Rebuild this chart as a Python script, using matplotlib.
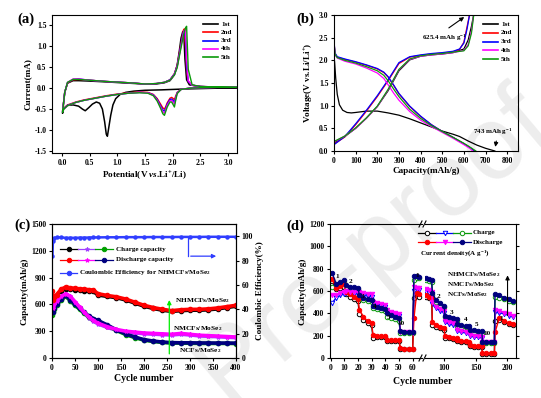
"""
Figura com quatro painéis: CV, curvas de carga/descarga, ciclagem e desempenho em taxa.
"""

import matplotlib
matplotlib.use('Agg')
import matplotlib.pyplot as plt
from matplotlib.lines import Line2D

# ================================
# CONFIGURAÇÃO GERAL
# ================================
LARGURA_PX, ALTURA_PX = 541, 398
DPI = 100

plt.rcParams['font.family'] = ['Liberation Serif', 'DejaVu Serif']
plt.rcParams['font.weight'] = 'bold'
plt.rcParams['axes.labelweight'] = 'bold'
plt.rcParams['mathtext.fontset'] = 'custom'
plt.rcParams['mathtext.rm'] = 'Liberation Serif:bold'
plt.rcParams['mathtext.it'] = 'Liberation Serif:italic:bold'
plt.rcParams['mathtext.bf'] = 'Liberation Serif:bold'
plt.rcParams['axes.linewidth'] = 0.8

TAM_TICK = 5.5
TAM_EIXO = 6.6
TAM_LEG = 5.1

PRETO = 'black'
VERMELHO = '#ff0000'
AZUL = '#0000ff'
MAGENTA = '#ff00ff'
VERDE = '#0a9a0a'
ROXO = '#a040ff'
MARINHO = '#00007f'
VERDE_C = '#00a000'
AZUL_CE = '#2f3dff'

ROTULOS_CICLO = ['1st', '2nd', '3rd', '4th', '5th']
CORES_CICLO = [PRETO, VERMELHO, AZUL, MAGENTA, VERDE]

# ================================
# DADOS (a) - VOLTAMETRIA CÍCLICA
# ================================
V_CICLO1_CAT = [3.15, 2.8, 2.5, 2.2, 2.0, 1.8, 1.5, 1.3, 1.15, 1.05, 0.97, 0.92, 0.88, 0.85, 0.82,
                0.80, 0.77, 0.73, 0.68, 0.62, 0.55, 0.48, 0.42, 0.37, 0.30, 0.20, 0.10, 0.03, 0.01]
I_CICLO1_CAT = [0.01, 0.0, -0.01, -0.02, -0.03, -0.04, -0.05, -0.07, -0.10, -0.15, -0.25, -0.40, -0.65, -0.90, -1.15,
                -1.10, -0.80, -0.50, -0.36, -0.33, -0.38, -0.47, -0.54, -0.50, -0.43, -0.40, -0.41, -0.50, -0.60]
V_CICLO1_AN = [0.01, 0.05, 0.10, 0.20, 0.30, 0.50, 0.80, 1.20, 1.50, 1.70, 1.85, 1.95, 2.03, 2.08, 2.12,
               2.15, 2.18, 2.20, 2.22, 2.25, 2.30, 2.50, 2.80, 3.15]
I_CICLO1_AN = [-0.60, -0.10, 0.12, 0.18, 0.18, 0.17, 0.15, 0.12, 0.10, 0.10, 0.13, 0.18, 0.32, 0.55, 0.90,
               1.20, 1.35, 1.30, 0.70, 0.20, 0.08, 0.04, 0.02, 0.01]

# ciclos 2 a 5 compartilham a mesma grade de potencial
V_CAT = [3.15, 2.8, 2.5, 2.3, 2.15, 2.08, 2.05, 2.03, 2.01, 1.98, 1.95, 1.90, 1.87, 1.85, 1.82,
         1.78, 1.72, 1.65, 1.55, 1.40, 1.20, 1.00, 0.80, 0.60, 0.40, 0.25, 0.10, 0.03, 0.01]
V_AN = [0.01, 0.05, 0.10, 0.20, 0.30, 0.50, 0.80, 1.20, 1.50, 1.70, 1.85, 1.95, 2.03, 2.08, 2.12,
        2.16, 2.19, 2.21, 2.23, 2.25, 2.28, 2.35, 2.50, 2.80, 3.15]

I_CAT_2 = [0.02, 0.02, 0.01, 0.0, -0.03, -0.10, -0.20, -0.28, -0.25, -0.22, -0.24, -0.35, -0.45, -0.50, -0.47,
           -0.38, -0.25, -0.15, -0.10, -0.09, -0.11, -0.14, -0.18, -0.23, -0.28, -0.33, -0.40, -0.48, -0.55]
I_CAT_3 = [0.02, 0.02, 0.01, 0.0, -0.03, -0.11, -0.24, -0.33, -0.30, -0.26, -0.27, -0.38, -0.49, -0.55, -0.52,
           -0.42, -0.27, -0.16, -0.11, -0.10, -0.12, -0.15, -0.19, -0.24, -0.29, -0.34, -0.41, -0.49, -0.56]
I_CAT_4 = [0.02, 0.02, 0.01, 0.0, -0.03, -0.12, -0.27, -0.38, -0.34, -0.29, -0.30, -0.41, -0.53, -0.60, -0.56,
           -0.45, -0.29, -0.17, -0.11, -0.10, -0.12, -0.15, -0.19, -0.24, -0.29, -0.34, -0.42, -0.50, -0.57]
I_CAT_5 = [0.02, 0.02, 0.01, 0.0, -0.03, -0.13, -0.31, -0.45, -0.40, -0.33, -0.33, -0.45, -0.57, -0.65, -0.61,
           -0.48, -0.31, -0.18, -0.12, -0.11, -0.12, -0.15, -0.19, -0.24, -0.29, -0.34, -0.42, -0.50, -0.58]

I_AN_2 = [-0.55, -0.10, 0.12, 0.20, 0.21, 0.19, 0.16, 0.13, 0.10, 0.11, 0.14, 0.20, 0.35, 0.55, 0.85,
          1.15, 1.38, 1.42, 1.00, 0.40, 0.15, 0.07, 0.04, 0.03, 0.02]
I_AN_3 = [-0.56, -0.10, 0.13, 0.21, 0.22, 0.19, 0.16, 0.13, 0.10, 0.11, 0.14, 0.20, 0.34, 0.53, 0.82,
          1.12, 1.33, 1.38, 1.20, 0.50, 0.16, 0.07, 0.04, 0.03, 0.02]
I_AN_4 = [-0.57, -0.10, 0.14, 0.22, 0.22, 0.19, 0.16, 0.13, 0.10, 0.11, 0.14, 0.19, 0.33, 0.51, 0.80,
          1.08, 1.30, 1.38, 1.40, 0.70, 0.18, 0.07, 0.04, 0.03, 0.02]
I_AN_5 = [-0.58, -0.10, 0.14, 0.21, 0.21, 0.19, 0.16, 0.13, 0.10, 0.11, 0.14, 0.19, 0.32, 0.49, 0.77,
          1.04, 1.25, 1.35, 1.44, 1.48, 0.45, 0.08, 0.04, 0.03, 0.02]

# ================================
# DADOS (b) - CARGA / DESCARGA
# ================================
CAP_DESC_1 = [0, 3, 8, 15, 25, 40, 60, 80, 100, 150, 200, 250, 300, 350, 400, 450, 500, 550, 580, 620, 660, 700, 743]
V_DESC_1 = [2.10, 1.95, 1.60, 1.25, 1.02, 0.90, 0.85, 0.84, 0.85, 0.88, 0.88, 0.84, 0.79, 0.71, 0.62,
            0.53, 0.44, 0.37, 0.32, 0.22, 0.13, 0.06, 0.0]

CAP_DESC = [0, 5, 15, 50, 100, 150, 200, 230, 250, 275, 300, 350, 400, 450, 500, 550, 600, 630]
V_DESC_2 = [2.40, 2.15, 2.07, 2.02, 1.96, 1.89, 1.81, 1.73, 1.63, 1.45, 1.26, 0.98, 0.76, 0.58, 0.43, 0.30, 0.16, 0.07]
V_DESC_3 = [2.42, 2.16, 2.08, 2.03, 1.97, 1.90, 1.82, 1.74, 1.64, 1.46, 1.27, 0.99, 0.77, 0.58, 0.43, 0.30, 0.16, 0.07]
V_DESC_4 = [2.35, 2.12, 2.05, 1.98, 1.92, 1.83, 1.72, 1.60, 1.46, 1.28, 1.12, 0.87, 0.68, 0.54, 0.41, 0.28, 0.14, 0.05]
V_DESC_5 = [2.38, 2.13, 2.06, 2.00, 1.94, 1.86, 1.77, 1.67, 1.55, 1.37, 1.20, 0.92, 0.72, 0.56, 0.43, 0.30, 0.17, 0.08]
CAP_FIM_DESC = [None, 650, 650, 640, 655]

CAP_CARGA_A = [0, 50, 100, 150, 200, 250, 300, 350, 400, 450, 500, 550, 580, 600, 615, 626]
V_CARGA_2 = [0.15, 0.31, 0.58, 0.88, 1.20, 1.55, 1.93, 2.07, 2.11, 2.14, 2.16, 2.19, 2.24, 2.40, 2.75, 3.0]
V_CARGA_3 = [0.14, 0.32, 0.60, 0.90, 1.22, 1.57, 1.95, 2.08, 2.12, 2.15, 2.17, 2.20, 2.25, 2.38, 2.70, 3.0]
CAP_CARGA_B = [0, 50, 100, 150, 200, 250, 300, 350, 400, 450, 500, 550, 600, 620, 635, 645]
V_CARGA_1 = [0.18, 0.32, 0.50, 0.73, 0.98, 1.33, 1.77, 2.01, 2.09, 2.12, 2.14, 2.17, 2.25, 2.45, 2.75, 3.0]
V_CARGA_4 = [0.20, 0.33, 0.50, 0.72, 0.98, 1.35, 1.79, 2.02, 2.09, 2.12, 2.14, 2.17, 2.22, 2.35, 2.65, 3.0]
V_CARGA_5 = [0.21, 0.33, 0.51, 0.73, 0.99, 1.36, 1.80, 2.03, 2.10, 2.13, 2.15, 2.18, 2.21, 2.32, 2.60, 2.98]

# ================================
# DADOS (c) - CICLAGEM LONGA
# ================================
CICLOS_C = [1, 2, 5, 10, 20, 30, 40, 50, 60, 70, 80, 90, 100, 120, 140, 160, 180, 200,
            220, 240, 260, 280, 300, 320, 340, 360, 380, 400]
NHMCF_DESC = [750, 650, 680, 710, 770, 795, 785, 780, 775, 770, 765, 760, 720, 700, 685, 660, 625, 590,
              565, 545, 530, 540, 545, 545, 550, 560, 575, 590]
NHMCF_CARGA = [640, 640, 665, 695, 755, 775, 770, 765, 760, 755, 750, 745, 705, 690, 675, 650, 615, 580,
               555, 535, 522, 530, 535, 535, 540, 550, 565, 580]
NMCF_DESC = [590, 560, 600, 640, 690, 720, 690, 630, 570, 510, 460, 420, 390, 350, 320, 300, 290, 280,
             275, 270, 265, 275, 265, 255, 250, 245, 240, 235]
NMCF_CARGA = [570, 550, 590, 630, 680, 710, 680, 620, 560, 500, 450, 412, 382, 342, 312, 292, 282, 272,
              267, 262, 258, 266, 258, 248, 243, 238, 233, 228]
NCF_DESC = [540, 520, 560, 600, 660, 700, 650, 600, 555, 510, 470, 440, 420, 370, 315, 270, 235, 205,
            190, 178, 172, 170, 170, 168, 168, 167, 167, 166]
NCF_CARGA = [480, 510, 550, 590, 650, 690, 640, 590, 545, 500, 462, 432, 410, 362, 308, 263, 228, 200,
             185, 174, 168, 166, 165, 164, 163, 163, 163, 162]
EFICIENCIA = [84, 96, 98.5, 99, 99, 98.6, 98.7, 98.6, 98.8, 98.8, 98.9, 99.0, 99.0, 99.1, 99.1, 99.2, 99.2, 99.2,
              99.3, 99.3, 99.3, 99.4, 99.4, 99.4, 99.5, 99.5, 99.5, 99.5]

# ================================
# DADOS (d) - DESEMPENHO EM TAXA
# ================================
CICLOS_D_ESQ = [1, 4, 7, 10, 11, 14, 17, 20, 21, 24, 27, 30, 31, 34, 37, 40,
                41, 44, 47, 50, 51, 54, 57, 60, 61, 63, 65]
CICLOS_D_DIR = [71, 75, 80, 81, 87, 94, 100, 101, 107, 114, 120, 121, 127, 134, 140,
                141, 147, 154, 160, 161, 167, 174, 180, 181, 188, 196, 203, 210]

NHMCF_D_DESC_ESQ = [764, 665, 680, 695, 650, 640, 635, 630, 560, 540, 530, 520, 470, 460, 450, 440,
                    400, 385, 370, 355, 240, 235, 235, 230, 735, 730, 725]
NHMCF_D_DESC_DIR = [715, 705, 695, 580, 520, 490, 470, 380, 370, 360, 350, 305, 295, 290, 285,
                    255, 250, 245, 240, 145, 140, 140, 140, 575, 560, 540, 525, 510]
NHMCF_D_CARGA_ESQ = [640, 650, 665, 680, 635, 625, 620, 615, 530, 520, 510, 500, 445, 440, 430, 420,
                     370, 360, 350, 335, 220, 225, 225, 225, 700, 715, 712]
NHMCF_D_CARGA_DIR = [700, 690, 680, 560, 505, 475, 455, 365, 355, 345, 335, 290, 280, 275, 270,
                     240, 235, 230, 228, 135, 135, 135, 135, 550, 540, 525, 510, 500]

NMCF_D_DESC_ESQ = [560, 565, 580, 595, 600, 595, 590, 590, 590, 580, 575, 570, 505, 495, 485, 475,
                   430, 415, 400, 390, 235, 230, 230, 228, 640, 630, 625]
NMCF_D_DESC_DIR = [615, 605, 595, 500, 460, 440, 420, 335, 320, 310, 300, 250, 240, 235, 230,
                   205, 200, 195, 190, 140, 140, 140, 140, 430, 420, 405, 390, 375]
NMCF_D_CARGA_ESQ = [490, 540, 560, 575, 580, 580, 575, 575, 570, 560, 555, 550, 490, 480, 470, 460,
                    410, 400, 390, 375, 225, 225, 225, 225, 600, 615, 610]
NMCF_D_CARGA_DIR = [595, 585, 575, 480, 445, 425, 405, 320, 305, 295, 290, 240, 230, 225, 220,
                    195, 190, 185, 180, 135, 135, 135, 135, 410, 405, 395, 380, 365]

NCF_D_DESC_ESQ = [705, 630, 645, 660, 590, 570, 550, 530, 430, 370, 330, 310, 205, 200, 195, 195,
                  165, 160, 160, 160, 90, 85, 85, 80, 360, 585, 570]
NCF_D_DESC_DIR = [560, 550, 540, 320, 295, 280, 265, 195, 185, 180, 175, 160, 155, 150, 145,
                  115, 110, 108, 105, 45, 42, 42, 42, 230, 360, 330, 315, 305]
NCF_D_CARGA_ESQ = [690, 620, 630, 640, 570, 550, 530, 510, 390, 340, 310, 295, 180, 185, 185, 185,
                   150, 150, 150, 150, 85, 80, 80, 80, 540, 555, 550]
NCF_D_CARGA_DIR = [545, 535, 525, 300, 280, 265, 255, 180, 175, 170, 165, 150, 145, 140, 135,
                   105, 100, 100, 100, 40, 40, 40, 40, 330, 340, 320, 305, 295]

# rótulos de densidade de corrente (A/g): (ciclo, capacidade, texto)
TAXAS_ESQ = [(5, 726, '1'), (14.5, 687, '2'), (23.5, 548, '3'), (32.5, 465, '4'), (42, 364, '5'),
             (51.5, 311, '10'), (63.5, 741, '1')]
TAXAS_DIR = [(91, 548, '2'), (111.5, 409, '3'), (134, 341, '4'), (151.5, 296, '5'),
             (168, 222, '10'), (191, 356, '1')]


# ================================
# FUNÇÕES AUXILIARES
# ================================
def caixa(esq, topo, dir, base):
    """Converte limites em pixels para [x, y, largura, altura] em fração da figura."""
    return [esq / LARGURA_PX, 1 - base / ALTURA_PX, (dir - esq) / LARGURA_PX, (base - topo) / ALTURA_PX]


def px_fig(x, y):
    return x / LARGURA_PX, 1 - y / ALTURA_PX


def estilizar(ax, tam=TAM_TICK):
    ax.set_facecolor('none')
    ax.tick_params(direction='out', length=2.5, width=0.8, labelsize=tam, pad=1.5)
    for rotulo in ax.get_xticklabels() + ax.get_yticklabels():
        rotulo.set_fontweight('bold')


def entrada_legenda(fig, x0, x1, y, estilos, rotulo, x_texto, tam=TAM_LEG, ms=3.2, lw=0.9):
    """Desenha uma linha de legenda manual com um ou mais segmentos."""
    n = len(estilos)
    passo = (x1 - x0) / n
    for i, (cor, marcador, cheio) in enumerate(estilos):
        xa, ya = px_fig(x0 + i * passo, y)
        xb, _ = px_fig(x0 + (i + 1) * passo, y)
        fig.add_artist(Line2D([xa, xb], [ya, ya], color=cor, lw=lw, transform=fig.transFigure))
        if marcador:
            xm, _ = px_fig(x0 + (i + 0.5) * passo, y)
            fig.add_artist(Line2D([xm], [ya], marker=marcador, ms=ms, lw=0, color=cor,
                                  mfc=cor if cheio else 'white', mec=cor, mew=0.7,
                                  transform=fig.transFigure))
    xt, yt = px_fig(x_texto, y)
    fig.text(xt, yt, rotulo, fontsize=tam, va='center', ha='left', fontweight='bold')


def rotulo_painel(fig, x, y, texto):
    xf, yf = px_fig(x, y)
    fig.text(xf, yf, texto, fontsize=10.5, fontweight='bold', ha='left', va='top')


# ================================
# PAINEL (a)
# ================================
def painel_a(fig):
    ax = fig.add_axes(caixa(52, 15, 237, 153))
    ax.plot(V_CICLO1_CAT + V_CICLO1_AN, I_CICLO1_CAT + I_CICLO1_AN, color=PRETO, lw=1.1)
    correntes = [(I_CAT_2, I_AN_2), (I_CAT_3, I_AN_3), (I_CAT_4, I_AN_4), (I_CAT_5, I_AN_5)]
    for (cat, an), cor in zip(correntes, CORES_CICLO[1:]):
        ax.plot(V_CAT + V_AN, cat + an, color=cor, lw=1.0)
    ax.set_xlim(-0.18, 3.16)
    ax.set_ylim(-1.55, 1.75)
    ax.set_xticks([0.0, 0.5, 1.0, 1.5, 2.0, 2.5, 3.0])
    ax.set_yticks([-1.5, -1.0, -0.5, 0.0, 0.5, 1.0, 1.5])
    ax.xaxis.set_major_formatter(plt.FormatStrFormatter('%.1f'))
    ax.yaxis.set_major_formatter(plt.FormatStrFormatter('%.1f'))
    ax.set_xlabel(r'Potential(V $\mathit{vs}$.Li$^{+}$/Li)', fontsize=TAM_EIXO, labelpad=2)
    ax.set_ylabel('Current(mA)', fontsize=TAM_EIXO, labelpad=2)
    estilizar(ax)
    for i, (rot, cor) in enumerate(zip(ROTULOS_CICLO, CORES_CICLO)):
        entrada_legenda(fig, 203, 218, 24 + i * 8.3, [(cor, None, True)], rot, 221, lw=1.2)
    rotulo_painel(fig, 17, 13, '(a)')


# ================================
# PAINEL (b)
# ================================
def painel_b(fig):
    ax = fig.add_axes(caixa(334, 15, 518, 151))
    ax.plot(CAP_DESC_1, V_DESC_1, color=PRETO, lw=0.9)
    ax.plot(CAP_CARGA_B, V_CARGA_1, color=PRETO, lw=0.9)
    descargas = [V_DESC_2, V_DESC_3, V_DESC_4, V_DESC_5]
    cargas = [(CAP_CARGA_A, V_CARGA_2), (CAP_CARGA_A, V_CARGA_3), (CAP_CARGA_B, V_CARGA_4), (CAP_CARGA_B, V_CARGA_5)]
    for i, cor in enumerate(CORES_CICLO[1:]):
        ax.plot(CAP_DESC + [CAP_FIM_DESC[i + 1]], descargas[i] + [0.0], color=cor, lw=0.9)
        ax.plot(cargas[i][0], cargas[i][1], color=cor, lw=0.9)
    ax.set_xlim(0, 850)
    ax.set_ylim(0, 3.0)
    ax.set_xticks(range(0, 801, 100))
    ax.set_yticks([0.0, 0.5, 1.0, 1.5, 2.0, 2.5, 3.0])
    ax.yaxis.set_major_formatter(plt.FormatStrFormatter('%.1f'))
    ax.set_xlabel('Capacity(mAh/g)', fontsize=TAM_EIXO, labelpad=2)
    ax.set_ylabel(r'Voltage(V vs.Li/Li$^{+}$)', fontsize=TAM_EIXO, labelpad=2)
    estilizar(ax)
    ax.annotate('', xy=(612, 2.99), xytext=(520, 2.68),
                arrowprops=dict(arrowstyle='-|>', color=PRETO, lw=0.8, mutation_scale=6))
    ax.text(405, 2.5, r'625.4 mAh g$^{-1}$', fontsize=5, fontweight='bold', va='center')
    ax.annotate('', xy=(743, 0.03), xytext=(752, 0.28),
                arrowprops=dict(arrowstyle='-|>', color=PRETO, lw=0.8, mutation_scale=6))
    ax.text(642, 0.42, r'743 mAh g$^{-1}$', fontsize=5, fontweight='bold', va='center')
    for i, (rot, cor) in enumerate(zip(ROTULOS_CICLO, CORES_CICLO)):
        entrada_legenda(fig, 483, 498, 24 + i * 8.8, [(cor, None, True)], rot, 501, lw=1.2)
    rotulo_painel(fig, 296, 13, '(b)')


# ================================
# PAINEL (c)
# ================================
def painel_c(fig):
    ax = fig.add_axes(caixa(52, 224, 236, 358))
    series = [
        (NHMCF_CARGA, PRETO, 'o'), (NMCF_CARGA, ROXO, '*'), (NCF_CARGA, VERDE_C, 'o'),
        (NCF_DESC, MARINHO, 'o'), (NMCF_DESC, MAGENTA, '*'), (NHMCF_DESC, VERMELHO, 'o'),
    ]
    for valores, cor, marcador in series:
        ax.plot(CICLOS_C, valores, color=cor, lw=2.6, marker=marcador, ms=3, mec=cor)
    ax.set_xlim(0, 400)
    ax.set_ylim(0, 1500)
    ax.set_xticks(range(0, 401, 50))
    ax.set_yticks(range(0, 1501, 300))
    ax.set_xlabel('Cycle number', fontsize=7, labelpad=1.5)
    ax.set_ylabel('Capacity(mAh/g)', fontsize=TAM_EIXO, labelpad=2)
    estilizar(ax)

    ax2 = ax.twinx()
    ax2.plot(CICLOS_C, EFICIENCIA, color=AZUL_CE, lw=1.8, marker='o', ms=2.2)
    ax2.set_ylim(0, 110)
    ax2.set_yticks(range(0, 101, 20))
    ax2.set_ylabel('Coulombic Efficiency(%)', fontsize=TAM_EIXO, labelpad=2)
    estilizar(ax2)
    ax2.plot([296, 296], [99.3, 83.6], color=AZUL_CE, lw=0.9)
    ax2.annotate('', xy=(363, 83.6), xytext=(295.5, 83.6),
                 arrowprops=dict(arrowstyle='-|>', color=AZUL_CE, lw=0.9, mutation_scale=6))

    ax.annotate('', xy=(255, 680), xytext=(255, 15),
                arrowprops=dict(arrowstyle='-|>', color='#00ee00', lw=0.9, mutation_scale=6))
    ax.text(268, 640, r'NHMCFs/MoSe$_2$', fontsize=5.3, fontweight='bold', va='center')
    ax.text(262, 335, r'NMCFs/MoSe$_2$', fontsize=5.3, fontweight='bold', va='center')
    ax.text(277, 80, r'NCFs/MoSe$_2$', fontsize=5.3, fontweight='bold', va='center')

    entrada_legenda(fig, 60, 113, 249, [(PRETO, 'o', True), (ROXO, '*', True), (VERDE_C, 'o', True)],
                    'Charge capacity', 116)
    entrada_legenda(fig, 60, 113, 259.7, [(VERMELHO, 'o', True), (MAGENTA, '*', True), (MARINHO, 'o', True)],
                    'Discharge capacity', 116)
    entrada_legenda(fig, 60, 77, 272.5, [(AZUL_CE, 'o', True)],
                    r'Coulombic Efficiency for NHMCFs/MoSe$_2$', 79)
    rotulo_painel(fig, 14, 219, '(c)')


# ================================
# PAINEL (d) - EIXO QUEBRADO
# ================================
def painel_d(fig):
    quebra = 423
    ax_e = fig.add_axes(caixa(330, 224, quebra - 1.5, 358))
    ax_d = fig.add_axes(caixa(quebra + 1.5, 224, 516, 358))

    pares = [
        (NCF_D_CARGA_ESQ, NCF_D_CARGA_DIR, PRETO, 'o', False),
        (NMCF_D_CARGA_ESQ, NMCF_D_CARGA_DIR, AZUL, 'v', False),
        (NHMCF_D_CARGA_ESQ, NHMCF_D_CARGA_DIR, VERDE, 'o', False),
        (NCF_D_DESC_ESQ, NCF_D_DESC_DIR, VERMELHO, 'o', True),
        (NMCF_D_DESC_ESQ, NMCF_D_DESC_DIR, MAGENTA, 'v', True),
        (NHMCF_D_DESC_ESQ, NHMCF_D_DESC_DIR, MARINHO, 'o', True),
    ]
    for esq, dir_, cor, marcador, cheio in pares:
        for ax, x, y in ((ax_e, CICLOS_D_ESQ, esq), (ax_d, CICLOS_D_DIR, dir_)):
            ax.plot(x, y, color=cor, lw=1.0, marker=marcador, ms=3.2, mew=0.7,
                    mfc=cor if cheio else 'white', mec=cor)

    ax_e.set_xlim(-0.5, 66.5)
    ax_d.set_xlim(68.5, 214.5)
    for ax in (ax_e, ax_d):
        ax.set_ylim(0, 1200)
        ax.set_yticks(range(0, 1201, 200))
    ax_e.set_xticks(range(0, 61, 10))
    ax_d.set_xticks([100, 150, 200])
    ax_e.spines['right'].set_visible(False)
    ax_d.spines['left'].set_visible(False)
    ax_d.yaxis.tick_right()
    ax_d.tick_params(labelright=False)
    ax_e.set_ylabel('Capacity(mAh/g)', fontsize=TAM_EIXO, labelpad=2)
    estilizar(ax_e)
    estilizar(ax_d)
    xf, yf = px_fig(423, 381)
    fig.text(xf, yf, 'Cycle number', fontsize=7, fontweight='bold', ha='center', va='center')

    # marcas da quebra
    for y in (224, 358):
        for dx in (-2.5, 1.5):
            xa, ya = px_fig(quebra + dx - 1.5, y + 3)
            xb, yb = px_fig(quebra + dx + 1.5, y - 3)
            fig.add_artist(Line2D([xa, xb], [ya, yb], color=PRETO, lw=0.8, transform=fig.transFigure))

    for x, y, t in TAXAS_ESQ:
        ax_e.text(x, y, t, fontsize=5.2, fontweight='bold', ha='center', va='center')
    for x, y, t in TAXAS_DIR:
        ax_d.text(x, y, t, fontsize=5.2, fontweight='bold', ha='center', va='center')

    ax_d.text(104, 745, r'NHMCFs/MoSe$_2$', fontsize=5.1, fontweight='bold', va='center')
    ax_d.text(104, 655, r'NMCFs/MoSe$_2$', fontsize=5.1, fontweight='bold', va='center')
    ax_d.text(104, 565, r'NCFs/MoSe$_2$', fontsize=5.1, fontweight='bold', va='center')
    ax_d.annotate('', xy=(201, 765), xytext=(201, 356),
                  arrowprops=dict(arrowstyle='-|>', color=PRETO, lw=0.8, mutation_scale=6))

    entrada_legenda(fig, 418, 471, 232.7, [(PRETO, 'o', False), (AZUL, 'v', False), (VERDE, 'o', False)],
                    'Charge', 473)
    entrada_legenda(fig, 418, 471, 242.3, [(VERMELHO, 'o', True), (MAGENTA, 'v', True), (MARINHO, 'o', True)],
                    'Discharge', 473)
    xf, yf = px_fig(420, 253)
    fig.text(xf, yf, r'Current density(A g$^{-1}$)', fontsize=5, fontweight='bold', va='center')
    rotulo_painel(fig, 286, 220, '(d)')


# ================================
# EXECUÇÃO PRINCIPAL
# ================================
def main():
    fig = plt.figure(figsize=(LARGURA_PX / DPI, ALTURA_PX / DPI), dpi=DPI)

    # marca d'água do periódico (cortada pela borda, como na origem)
    xf, yf = px_fig(226, 404)
    fig.text(xf, yf, 'Pre-proof', fontsize=74, color='#ededed', family='Liberation Sans',
             fontweight='normal', rotation=40, rotation_mode='anchor', ha='left', va='baseline',
             zorder=-5)

    painel_a(fig)
    painel_b(fig)
    painel_c(fig)
    painel_d(fig)
    fig.savefig('out.png', dpi=DPI)


if __name__ == "__main__":
    main()
